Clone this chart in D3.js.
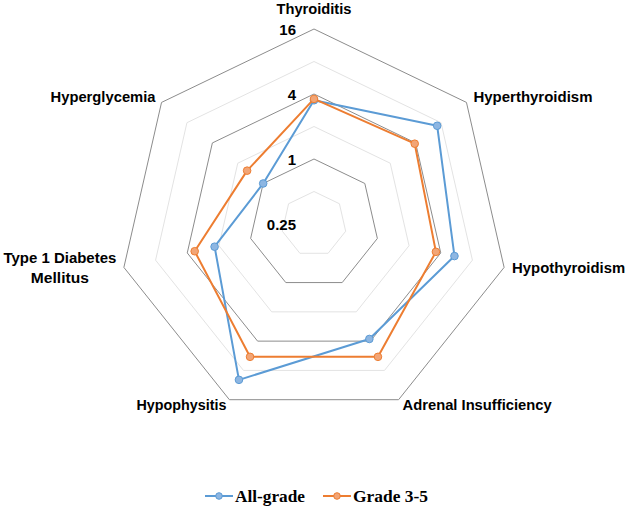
<!DOCTYPE html>
<html>
<head>
<meta charset="utf-8">
<script src="https://cdn.jsdelivr.net/npm/d3@7"></script>
<style>
  html, body { margin: 0; padding: 0; background: #fff; }
  svg { display: block; }
</style>
</head>
<body>
<svg id="chart" width="629" height="508"></svg>
<script>
// ---- data ----
const categories = ["Thyroiditis", "Hyperthyroidism", "Hypothyroidism", "Adrenal Insufficiency", "Hypophysitis", "Type 1 Diabetes Mellitus", "Hyperglycemia"];
const allGrade = [3.5, 7.2, 5.4, 3.8, 10, 2.2, 1.0];
const grade35 = [3.6, 3.9, 3.6, 5.8, 5.8, 3.4, 1.55];
const tickLabels = [0.25, 1, 4, 16];
const majorLevels = [1, 4, 16];
const minorLevels = [0.5, 2, 8];
const seriesNames = ["All-grade", "Grade 3-5"];

// ---- layout ----
const svg = d3.select("#chart");
const cx = 314, cy = 224, R = 195;
const n = categories.length;
const r = d3.scaleLog().base(4).domain([0.25, 16]).range([0, R]);
const ang = i => -Math.PI / 2 + i * 2 * Math.PI / n;
const pt = (i, rad) => [cx + rad * Math.cos(ang(i)), cy + rad * Math.sin(ang(i))];

const colors = ["#5B9BD5", "#ED7D31"];
const fills = ["#8DB6E2", "#F2A576"];

const g = svg.append("g");

// gridlines
function ring(v) {
  return d3.range(n).map(i => pt(i, r(v)));
}
const line = d3.line();
minorLevels.forEach(v => {
  g.append("path").attr("d", line(ring(v)) + "Z")
    .attr("fill", "none").attr("stroke", "#e3e3e3").attr("stroke-width", 1);
});
majorLevels.forEach(v => {
  g.append("path").attr("d", line(ring(v)) + "Z")
    .attr("fill", "none").attr("stroke", "#8c8c8c").attr("stroke-width", 1);
});

// tick labels
const labelFont = "'Liberation Sans', Arial, sans-serif";
tickLabels.forEach(v => {
  g.append("text")
    .attr("x", 296).attr("y", cy - r(v) + 5.5)
    .attr("text-anchor", "end")
    .attr("font-family", labelFont).attr("font-weight", "bold")
    .attr("font-size", 15).attr("fill", "#000")
    .text(v);
});

// series
[allGrade, grade35].forEach((vals, s) => {
  const pts = vals.map((v, i) => pt(i, r(v)));
  g.append("path").attr("d", line(pts) + "Z")
    .attr("fill", "none").attr("stroke", colors[s]).attr("stroke-width", 2)
    .attr("stroke-linejoin", "round");
  g.selectAll(null).data(pts).enter().append("circle")
    .attr("cx", d => d[0]).attr("cy", d => d[1]).attr("r", 3.8)
    .attr("fill", fills[s]).attr("stroke", colors[s]).attr("stroke-width", 1);
});

// category labels: offsets relative to outer vertices
const catLayout = [
  { dx: 0, dy: -15, anchor: "middle", w: 75 },
  { dx: 7, dy: 0, anchor: "start", w: 119 },
  { dx: 8, dy: 6, anchor: "start", w: 113 },
  { dx: 4, dy: 10, anchor: "start", w: 149 },
  { dx: -3, dy: 10, anchor: "end", w: 90 },
  { dx: -64, dy: -4, anchor: "middle", w: 113, lines: ["Type 1 Diabetes", "Mellitus"], w2: 58 },
  { dx: -6, dy: 0, anchor: "end", w: 105 }
];
categories.forEach((c, i) => {
  const [vx, vy] = pt(i, R);
  const L = catLayout[i];
  const lines = L.lines || [c];
  lines.forEach((t, k) => {
    g.append("text")
      .attr("x", vx + L.dx).attr("y", vy + L.dy + k * 20)
      .attr("text-anchor", L.anchor)
      .attr("font-family", labelFont).attr("font-weight", "bold")
      .attr("font-size", 15).attr("fill", "#000")
      .attr("textLength", k === 0 ? L.w : L.w2)
      .attr("lengthAdjust", "spacingAndGlyphs")
      .text(t);
  });
});

// legend
const legend = svg.append("g");
const legendItems = [
  { x: 205, tw: 70 },
  { x: 323, tw: 75 }
];
seriesNames.forEach((name, s) => {
  const L = legendItems[s];
  const y = 496;
  legend.append("line").attr("x1", L.x).attr("x2", L.x + 28).attr("y1", y).attr("y2", y)
    .attr("stroke", colors[s]).attr("stroke-width", 2);
  legend.append("circle").attr("cx", L.x + 14).attr("cy", y).attr("r", 3.3)
    .attr("fill", fills[s]).attr("stroke", colors[s]).attr("stroke-width", 1);
  legend.append("text").attr("x", L.x + 30).attr("y", y + 5.5)
    .attr("font-family", "'Liberation Serif', 'Times New Roman', serif")
    .attr("font-weight", "bold").attr("font-size", 16).attr("fill", "#000")
    .attr("textLength", L.tw).attr("lengthAdjust", "spacingAndGlyphs")
    .text(name);
});
</script>
</body>
</html>
